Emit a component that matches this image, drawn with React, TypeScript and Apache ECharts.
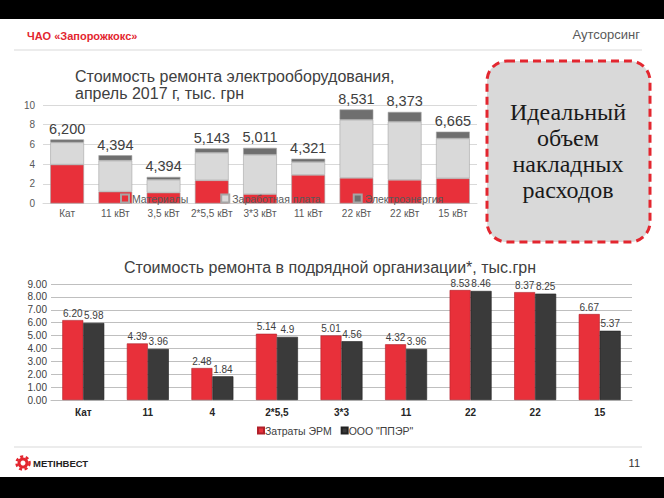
import React, { useEffect, useRef } from "react";
import * as echarts from "echarts";

const topCategories = ["Кат", "11 кВт", "3,5 кВт", "2*5,5 кВт", "3*3 кВт", "11 кВт", "22 кВт", "22 кВт", "15 кВт"];
const materials = [3.95, 1.2, 1.1, 2.35, 0.95, 2.9, 2.6, 2.4, 2.55];
const salary = [2.25, 3.15, 1.3, 2.8, 4.0, 1.3, 5.9, 5.9, 4.05];
const electricity = [0.3, 0.55, 0.3, 0.45, 0.7, 0.35, 1.05, 1.0, 0.7];
const topLabels = ["6,200", "4,394", "4,394", "5,143", "5,011", "4,321", "8,531", "8,373", "6,665"];

const bottomCategories = ["Кат", "11", "4", "2*5,5", "3*3", "11", "22", "22", "15"];
const ermCosts = [6.2, 4.39, 2.48, 5.14, 5.01, 4.32, 8.53, 8.37, 6.67];
const ppérCosts = [5.98, 3.96, 1.84, 4.9, 4.56, 3.96, 8.46, 8.25, 5.37];
const ppérLabels = ["5.98", "3.96", "1.84", "4.9", "4.56", "3.96", "8.46", "8.25", "5.37"];

const RED = "#e8303a";
const FONT = "'Liberation Sans', Arial, sans-serif";

export default function App() {
  const ref = useRef<HTMLDivElement>(null);
  useEffect(() => {
    if (!ref.current) return;
    const chart = echarts.init(ref.current, undefined, { renderer: "svg" });
    const topBorder = { borderColor: "#a6a6a6", borderWidth: 0.6 };
    chart.setOption({
      animation: false,
      backgroundColor: "#ffffff",
      textStyle: { fontFamily: FONT },
      grid: [
        { left: 43, right: 187, top: 105, bottom: 294.5 },
        { left: 51, right: 32, top: 284, bottom: 98 },
      ],
      xAxis: [
        {
          type: "category",
          gridIndex: 0,
          data: topCategories,
          axisLine: { lineStyle: { color: "#d9d9d9" } },
          axisTick: { show: false },
          axisLabel: { color: "#595959", fontSize: 10, margin: 5, interval: 0, fontFamily: FONT },
        },
        {
          type: "category",
          gridIndex: 1,
          data: bottomCategories,
          axisLine: { lineStyle: { color: "#bfbfbf" } },
          axisTick: { show: false },
          axisLabel: { color: "#262626", fontSize: 10, fontWeight: "bold", margin: 7, interval: 0, fontFamily: FONT },
        },
      ],
      yAxis: [
        {
          type: "value",
          gridIndex: 0,
          min: 0,
          max: 10,
          interval: 2,
          axisLine: { show: false },
          axisTick: { show: false },
          splitLine: { lineStyle: { color: "#d9d9d9" } },
          axisLabel: { color: "#595959", fontSize: 10, margin: 8, fontFamily: FONT },
        },
        {
          type: "value",
          gridIndex: 1,
          min: 0,
          max: 9,
          interval: 1,
          axisLine: { show: false },
          axisTick: { show: false },
          splitLine: { lineStyle: { color: "#bfbfbf" } },
          axisLabel: {
            color: "#404040",
            fontSize: 10,
            margin: 4,
            fontFamily: FONT,
            formatter: (v: number) => v.toFixed(2),
          },
        },
      ],
      legend: [
        {
          data: ["Материалы", "Заработная плата", "Электроэнергия"],
          left: 120,
          top: 193,
          padding: 0,
          itemWidth: 8,
          itemHeight: 8,
          itemGap: 32,
          textStyle: { color: "#595959", fontSize: 10.5, fontFamily: FONT, padding: [0, 0, 0, -2] },
          icon: "rect",
        },
        {
          data: ["Затраты ЭРМ", 'ООО "ППЭР"'],
          left: 257,
          top: 425,
          padding: 0,
          itemWidth: 6,
          itemHeight: 6,
          itemGap: 9,
          textStyle: { color: "#404040", fontSize: 10.5, fontFamily: FONT, padding: [0, 0, 0, -4] },
          icon: "rect",
        },
      ],
      series: [
        {
          name: "Материалы",
          type: "bar",
          stack: "top",
          xAxisIndex: 0,
          yAxisIndex: 0,
          data: materials,
          barCategoryGap: "30%",
          itemStyle: { color: RED, ...topBorder },
        },
        {
          name: "Заработная плата",
          type: "bar",
          stack: "top",
          xAxisIndex: 0,
          yAxisIndex: 0,
          data: salary,
          itemStyle: { color: "#d9d9d9", ...topBorder },
        },
        {
          name: "Электроэнергия",
          type: "bar",
          stack: "top",
          xAxisIndex: 0,
          yAxisIndex: 0,
          data: electricity,
          itemStyle: { color: "#6f6f6f", ...topBorder },
          label: {
            show: true,
            position: "top",
            distance: 3,
            color: "#404040",
            fontSize: 14.5,
            fontFamily: FONT,
            formatter: (p: any) => topLabels[p.dataIndex],
          },
        },
        {
          name: "Затраты ЭРМ",
          type: "bar",
          xAxisIndex: 1,
          yAxisIndex: 1,
          data: ermCosts,
          barGap: "0%",
          barCategoryGap: "35%",
          itemStyle: { color: RED, borderColor: "#b0202a", borderWidth: 0.6 },
          label: {
            show: true,
            position: "top",
            distance: 2,
            color: "#404040",
            fontSize: 10,
            fontFamily: FONT,
            formatter: (p: any) => Number(p.value).toFixed(2),
          },
        },
        {
          name: 'ООО "ППЭР"',
          type: "bar",
          xAxisIndex: 1,
          yAxisIndex: 1,
          data: ppérCosts,
          itemStyle: { color: "#3a3a3a", borderColor: "#222222", borderWidth: 0.6 },
          label: {
            show: true,
            position: "top",
            distance: 2,
            color: "#404040",
            fontSize: 10,
            fontFamily: FONT,
            formatter: (p: any) => ppérLabels[p.dataIndex],
          },
        },
      ],
      graphic: [
        { type: "rect", shape: { x: 0, y: 0, width: 664, height: 19 }, style: { fill: "#000000" } },
        { type: "rect", shape: { x: 0, y: 477, width: 664, height: 21 }, style: { fill: "#000000" } },
        {
          type: "text",
          x: 27,
          y: 36,
          style: {
            text: "ЧАО «Запорожкокс»",
            fill: "#e3262f",
            font: `bold 11px ${FONT}`,
            verticalAlign: "middle",
          },
        },
        {
          type: "text",
          x: 640,
          y: 34,
          style: {
            text: "Аутсорсинг",
            fill: "#595959",
            font: `13px ${FONT}`,
            align: "right",
            verticalAlign: "middle",
          },
        },
        { type: "line", shape: { x1: 14, y1: 50, x2: 642, y2: 50 }, style: { stroke: "#d9d9d9", lineWidth: 1 } },
        { type: "line", shape: { x1: 14, y1: 447, x2: 642, y2: 447 }, style: { stroke: "#d9d9d9", lineWidth: 1 } },
        {
          type: "text",
          x: 75,
          y: 85,
          style: {
            text: "Стоимость ремонта электрооборудования,\nапрель 2017 г, тыс. грн",
            fill: "#404040",
            font: `16px ${FONT}`,
            lineHeight: 17,
            verticalAlign: "middle",
          },
        },
        {
          type: "text",
          x: 330,
          y: 267,
          style: {
            text: "Стоимость ремонта в подрядной организации*, тыс.грн",
            fill: "#404040",
            font: `16px ${FONT}`,
            align: "center",
            verticalAlign: "middle",
          },
        },
        {
          type: "rect",
          shape: { x: 487, y: 61, width: 163, height: 181, r: 20 },
          style: { fill: "#d9d9d9", stroke: "#e3262f", lineWidth: 3, lineDash: [8, 5] },
        },
        {
          type: "text",
          x: 568,
          y: 151,
          style: {
            text: "Идеальный\nобъем\nнакладных\nрасходов",
            fill: "#1a1a1a",
            font: `24px 'Liberation Serif', 'DejaVu Serif', serif`,
            lineHeight: 26,
            align: "center",
            verticalAlign: "middle",
          },
        },
        {
          type: "ring",
          shape: { cx: 23, cy: 463, r: 5.5, r0: 2.5 },
          style: { fill: "#e3262f" },
        },
        {
          type: "circle",
          shape: { cx: 23, cy: 463, r: 6.5 },
          style: { fill: "none", stroke: "#e3262f", lineWidth: 2.5, lineDash: [3, 2.5] },
        },
        {
          type: "text",
          x: 33,
          y: 463,
          style: {
            text: "МЕТІНВЕСТ",
            fill: "#222222",
            font: `bold 9.5px ${FONT}`,
            verticalAlign: "middle",
          },
        },
        {
          type: "text",
          x: 640,
          y: 463,
          style: {
            text: "11",
            fill: "#333333",
            font: `11px ${FONT}`,
            align: "right",
            verticalAlign: "middle",
          },
        },
      ],
    });
    return () => chart.dispose();
  }, []);
  return (
    <div
      ref={ref}
      style={{ position: "fixed", left: 0, top: 0, width: 664, height: 498, background: "#fff" }}
    />
  );
}
